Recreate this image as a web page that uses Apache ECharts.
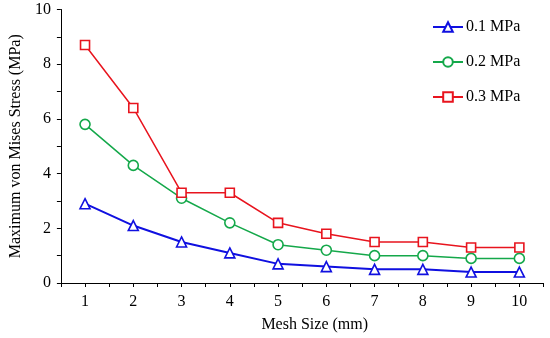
<!DOCTYPE html>
<html>
<head>
<meta charset="utf-8">
<script src="https://cdn.jsdelivr.net/npm/echarts@6/dist/echarts.min.js"></script>
<style>
html,body{margin:0;padding:0;background:#fff;}
#chart{width:550px;height:338px;}
</style>
</head>
<body>
<div id="chart"></div>
<script>
var meshSizes = [1, 2, 3, 4, 5, 6, 7, 8, 9, 10];
var stress01 = [2.9, 2.1, 1.5, 1.1, 0.7, 0.6, 0.5, 0.5, 0.4, 0.4];
var stress02 = [5.8, 4.3, 3.1, 2.2, 1.4, 1.2, 1.0, 1.0, 0.9, 0.9];
var stress03 = [8.7, 6.4, 3.3, 3.3, 2.2, 1.8, 1.5, 1.5, 1.3, 1.3];
var seriesNames = ['0.1 MPa', '0.2 MPa', '0.3 MPa'];

function pairs(vals){ return meshSizes.map(function(x,i){ return [x, vals[i]]; }); }

var FONT = 'Liberation Serif';
var chart = echarts.init(document.getElementById('chart'), null, {renderer:'canvas'});
function mk(name, vals, color, symbol, size, width){
  return {
    name: name, type: 'line', data: pairs(vals),
    symbol: symbol, symbolSize: size, showAllSymbol: true,
    lineStyle: {color: color, width: width},
    itemStyle: {color: '#fff', borderColor: color, borderWidth: 1.6},
    emphasis: {disabled: true}, animation: false
  };
}
chart.setOption({
  animation: false,
  backgroundColor: '#fff',
  grid: {left: 54, right: 6.5, top: 9.5, bottom: 53, containLabel: false},
  legend: {
    orient: 'vertical', left: 432, top: 19, padding: 0,
    itemWidth: 30, itemHeight: 12, itemGap: 19,
    textStyle: {fontFamily: FONT, fontSize: 16, color: '#000', padding: [0,0,0,-2]},
    data: seriesNames
  },
  xAxis: {
    type: 'value', min: 0.5, max: 10.5, interval: 0.5,
    name: 'Mesh Size (mm)', nameLocation: 'middle', nameGap: 34,
    nameTextStyle: {fontFamily: FONT, fontSize: 16, color: '#000', padding: [0,0,0,25]},
    axisLine: {lineStyle: {color: '#000', width: 1}},
    axisTick: {show: true, length: 4, lineStyle: {color: '#000'}},
    axisLabel: {fontFamily: FONT, fontSize: 16, color: '#000', margin: 11,
      formatter: function(v){ return Number.isInteger(v) ? String(v) : ''; }},
    splitLine: {show: false}
  },
  yAxis: {
    type: 'value', min: 0, max: 10, interval: 1,
    name: 'Maximum von Mises Stress (MPa)', nameLocation: 'middle', nameGap: 32,
    nameTextStyle: {fontFamily: FONT, fontSize: 16, color: '#000'},
    axisLine: {show: true, lineStyle: {color: '#000', width: 1}},
    axisTick: {show: true, length: 4, lineStyle: {color: '#000'}},
    axisLabel: {fontFamily: FONT, fontSize: 16, color: '#000', margin: 10,
      formatter: function(v){ return v % 2 === 0 ? String(v) : ''; }},
    splitLine: {show: false}
  },
  series: [
    mk(seriesNames[0], stress01, '#1010e0', 'triangle', 10, 2),
    mk(seriesNames[1], stress02, '#14a84a', 'circle', 10, 1.5),
    mk(seriesNames[2], stress03, '#e8141e', 'rect', 9, 1.5)
  ]
});
</script>
</body>
</html>
